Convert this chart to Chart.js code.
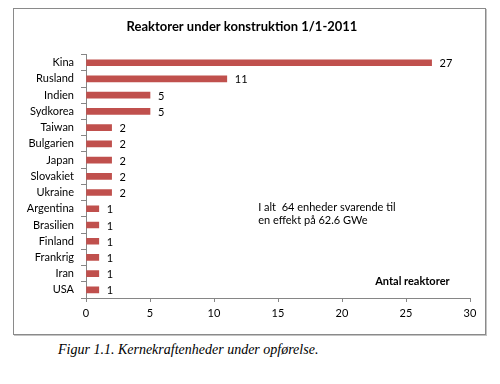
<!DOCTYPE html>
<html>
<head>
<meta charset="utf-8">
<script src="https://cdn.jsdelivr.net/npm/chart.js@4"></script>
<style>
  body { margin: 0; background: #fff; }
  .frame { position: absolute; left: 13px; top: 8px; width: 471px; height: 325px; border: 1px solid #8a8a8a; box-shadow: 1px 1px 0 #c4c4c4; }
  .caption { position: absolute; left: 58px; top: 342px; font: italic 14px "Liberation Serif", serif; color: #000; }
</style>
</head>
<body>
<div class="frame"><canvas id="reactors" width="471" height="325"></canvas></div>
<div class="caption">Figur 1.1. Kernekraftenheder under opførelse.</div>
<script>
const countries = ['Kina', 'Rusland', 'Indien', 'Sydkorea', 'Taiwan', 'Bulgarien', 'Japan', 'Slovakiet',
    'Ukraine', 'Argentina', 'Brasilien', 'Finland', 'Frankrig', 'Iran', 'USA'];
const reactors = [27, 11, 5, 5, 2, 2, 2, 2, 2, 1, 1, 1, 1, 1, 1];
const xTicks = [0, 5, 10, 15, 20, 25, 30];

const font = 'Lato';
const axisGrey = '#868686';

// values printed right of each bar
const barLabels = {
    id: 'barLabels',
    afterDatasetsDraw(chart) {
        const ctx = chart.ctx;
        const meta = chart.getDatasetMeta(0);
        ctx.save();
        ctx.font = '11px ' + font;
        ctx.fillStyle = '#000';
        ctx.textBaseline = 'middle';
        meta.data.forEach((bar, i) => {
            ctx.fillText(String(reactors[i]), bar.x + 8, bar.y + 1);
        });
        ctx.restore();
    }
};

// text box and axis title inside the plot
const notes = {
    id: 'notes',
    afterDraw(chart) {
        const ctx = chart.ctx;
        const x = chart.scales.x, y = chart.scales.y;
        ctx.save();
        ctx.fillStyle = '#000';
        ctx.textBaseline = 'middle';
        ctx.font = '11px ' + font;
        ctx.fillText('I alt  64 enheder svarende til', x.getPixelForValue(13.45), y.getPixelForValue(8.9));
        ctx.fillText('en effekt på 62.6 GWe', x.getPixelForValue(13.45), y.getPixelForValue(9.75));
        ctx.font = 'bold 11px ' + font;
        ctx.textAlign = 'center';
        ctx.fillText('Antal reaktorer', x.getPixelForValue(25.5), y.getPixelForValue(13.5));
        ctx.restore();
    }
};

new Chart(document.getElementById('reactors'), {
    type: 'bar',
    data: {
        labels: countries,
        datasets: [{
            data: reactors,
            backgroundColor: '#c0504d',
            barThickness: 6,
            categoryPercentage: 1
        }]
    },
    options: {
        indexAxis: 'y',
        responsive: false,
        animation: false,
        layout: { padding: { left: 0, right: 15, top: 0, bottom: 0 } },
        plugins: {
            legend: { display: false },
            tooltip: { enabled: false },
            title: {
                display: true,
                text: 'Reaktorer under konstruktion 1/1-2011',
                color: '#000',
                font: { family: font, size: 13, weight: 'bold' },
                padding: { top: 10, bottom: 20 }
            }
        },
        scales: {
            x: {
                min: 0,
                max: 30,
                afterBuildTicks(scale) { scale.ticks = xTicks.map(v => ({ value: v })); },
                afterFit(scale) { scale.height = 36; },
                grid: { drawOnChartArea: false, drawTicks: true, tickLength: 4, color: axisGrey },
                border: { color: axisGrey },
                ticks: { color: '#000', padding: 5, font: { family: font, size: 11 } }
            },
            y: {
                afterFit(scale) { scale.width = 72; },
                grid: { offset: true, drawOnChartArea: false, drawTicks: true, tickLength: 5, color: axisGrey },
                border: { color: axisGrey },
                ticks: { color: '#000', padding: 7, font: { family: font, size: 11 } }
            }
        }
    },
    plugins: [barLabels, notes]
});
</script>
</body>
</html>
